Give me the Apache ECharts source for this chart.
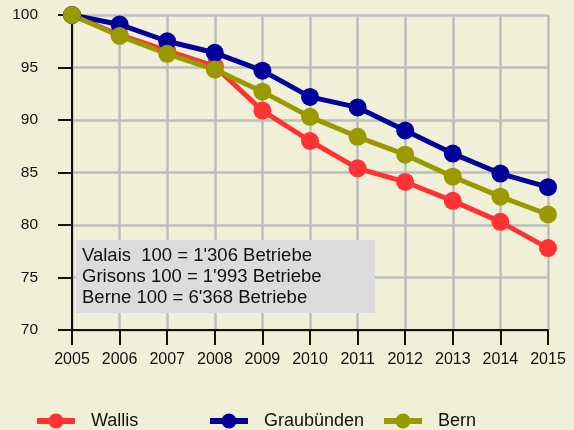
<!DOCTYPE html>
<html><head><meta charset="utf-8">
<script src="https://cdn.jsdelivr.net/npm/echarts@6/dist/echarts.min.js"></script>
<style>html,body{margin:0;padding:0;background:#F0F0D8;}#c{width:574px;height:430px;}</style>
</head><body><div id="c"></div>
<script>
const years = ['2005','2006','2007','2008','2009','2010','2011','2012','2013','2014','2015'];
const wallis = [100, 98.1, 96.6, 95.1, 90.9, 88.0, 85.4, 84.1, 82.3, 80.3, 77.8];
const graubuenden = [100, 99.1, 97.5, 96.4, 94.7, 92.2, 91.2, 89.0, 86.8, 84.9, 83.6];
const bern = [100, 98.0, 96.3, 94.8, 92.7, 90.3, 88.4, 86.7, 84.6, 82.7, 81.0];
const yTicks = {min: 70, max: 100, interval: 5};
const noteLines = ["Valais  100 = 1'306 Betriebe", "Grisons 100 = 1'993 Betriebe", "Berne 100 = 6'368 Betriebe"];

const font = 'Liberation Sans, Arial, sans-serif';
const chart = echarts.init(document.getElementById('c'), null, {renderer: 'canvas'});
function mkSeries(name, data, color) {
  return {name, type: 'line', data, symbol: 'circle', symbolSize: 18,
    lineStyle: {color, width: 5}, itemStyle: {color}, animation: false};
}
function mkLegend(name, left) {
  return {data: [name], left, top: 412, padding: 0, itemWidth: 38, itemHeight: 19,
    lineStyle: {width: 6},
    textStyle: {fontFamily: font, fontSize: 18, color: '#111', padding: [0, 0, 0, 11]}, selectedMode: false};
}
chart.setOption({
  backgroundColor: '#F0F0D8',
  animation: false,
  grid: {left: 72, top: 15, right: 26, bottom: 100, containLabel: false},
  xAxis: {type: 'category', data: years, boundaryGap: false,
    axisLine: {lineStyle: {color: '#111', width: 2}},
    axisTick: {show: true, length: 15, inside: false, lineStyle: {color: '#111', width: 2}, alignWithLabel: true},
    axisLabel: {fontFamily: font, fontSize: 16, color: '#111', margin: 22},
    splitLine: {show: true, lineStyle: {color: '#BEBEBE', width: 2.5}}},
  yAxis: {type: 'value', min: yTicks.min, max: yTicks.max, interval: yTicks.interval,
    axisLine: {show: true, lineStyle: {color: '#111', width: 2}},
    axisTick: {show: true, length: 14, lineStyle: {color: '#111', width: 2}},
    axisLabel: {fontFamily: font, fontSize: 15.5, color: '#111', margin: 34},
    splitLine: {show: true, lineStyle: {color: '#BEBEBE', width: 2.5}}},
  legend: [mkLegend('Wallis', 34), mkLegend('Graubünden', 207), mkLegend('Bern', 381)],
  series: [mkSeries('Wallis', wallis, '#FF3333'), mkSeries('Graubünden', graubuenden, '#000099'), mkSeries('Bern', bern, '#999900')],
  graphic: [
    {type: 'rect', left: 76, top: 240, shape: {width: 299, height: 73}, style: {fill: '#DCDCDC'}, z: 100},
    {type: 'text', left: 82, top: 245, z: 101, style: {text: noteLines.join('\n'), font: '18.5px ' + font, fill: '#111', lineHeight: 21}}
  ]
});
</script></body></html>
